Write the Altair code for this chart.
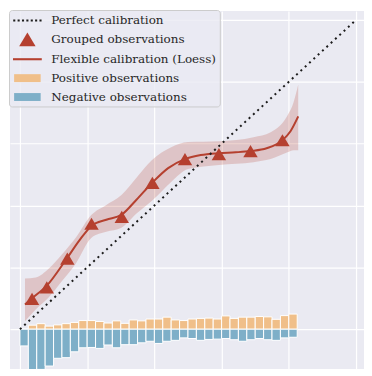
import altair as alt
import pandas as pd

# ---------------- data ----------------
bin_start = [0.000, 0.025, 0.050, 0.075, 0.100, 0.125, 0.150, 0.175, 0.200, 0.225,
             0.250, 0.275, 0.300, 0.325, 0.350, 0.375, 0.400, 0.425, 0.450, 0.475,
             0.500, 0.525, 0.550, 0.575, 0.600, 0.625, 0.650, 0.675, 0.700, 0.725,
             0.750, 0.775, 0.800]
pos_height = [0.000, 0.013, 0.018, 0.010, 0.014, 0.018, 0.022, 0.028, 0.028, 0.025,
              0.020, 0.027, 0.019, 0.030, 0.027, 0.033, 0.033, 0.039, 0.030, 0.028,
              0.033, 0.035, 0.036, 0.033, 0.043, 0.035, 0.039, 0.039, 0.041, 0.040,
              0.032, 0.044, 0.049]
neg_height = [0.054, 0.177, 0.130, 0.119, 0.094, 0.092, 0.073, 0.060, 0.059, 0.062,
              0.051, 0.060, 0.050, 0.050, 0.044, 0.039, 0.046, 0.039, 0.036, 0.028,
              0.030, 0.036, 0.033, 0.032, 0.030, 0.034, 0.039, 0.034, 0.030, 0.034,
              0.036, 0.028, 0.026]
bin_width = 0.025

grp_x = [0.036, 0.080, 0.141, 0.213, 0.303, 0.394, 0.491, 0.592, 0.686, 0.781]
grp_y = [0.098, 0.135, 0.228, 0.341, 0.363, 0.473, 0.550, 0.566, 0.576, 0.611]

loess_x = [0.015, 0.036, 0.080, 0.139, 0.178, 0.213, 0.257, 0.302, 0.346, 0.393,
           0.441, 0.491, 0.538, 0.592, 0.642, 0.686, 0.734, 0.781, 0.805, 0.828]
loess_y = [0.080, 0.100, 0.141, 0.228, 0.289, 0.334, 0.354, 0.370, 0.418, 0.473,
           0.521, 0.550, 0.563, 0.569, 0.572, 0.576, 0.585, 0.611, 0.640, 0.688]

band_x = [0.015, 0.047, 0.086, 0.124, 0.166, 0.213, 0.257, 0.302, 0.346, 0.393,
          0.450, 0.500, 0.592, 0.695, 0.746, 0.796, 0.814, 0.828]
band_hi = [0.164, 0.167, 0.196, 0.241, 0.296, 0.370, 0.402, 0.434, 0.489, 0.547,
           0.588, 0.605, 0.608, 0.621, 0.637, 0.691, 0.733, 0.791]
band_lo = [0.026, 0.064, 0.103, 0.154, 0.212, 0.296, 0.315, 0.328, 0.373, 0.415,
           0.476, 0.518, 0.531, 0.540, 0.550, 0.572, 0.579, 0.579]

perfect_x = [0.0, 1.0]
perfect_y = [0.0, 1.0]

grid_ticks = [0.0, 0.2, 0.4, 0.6, 0.8, 1.0]

series = ["Perfect calibration", "Grouped observations",
          "Flexible calibration (Loess)", "Positive observations",
          "Negative observations"]
colors = ["#1c1c1c", "#b5402f", "#b5402f", "#f0bf89", "#7eafc8"]

# ---------------- styling ----------------
RED = "#b5402f"
X_DOM = [-0.0296, 1.0237]
Y_DOM = [-0.1286, 1.0289]
SERIF = "DejaVu Serif"

# legend symbol shapes (unit = 7.5 px in the legend)
dots = [-1.76, -1.173, -0.587, 0.0, 0.587, 1.173, 1.76]
dot_path = "".join(f"M{d-0.14:.3f},-0.14h0.28v0.28h-0.28Z" for d in dots)
legend_paths = [
    dot_path,
    "M-1.1,0.93L1.1,0.93L0,-0.93Z",
    "M-1.93,-0.14H1.93V0.14H-1.93Z",
    "M-1.78,-0.53H1.78V0.53H-1.78Z",
    "M-1.78,-0.53H1.78V0.53H-1.78Z",
]


def xq(field):
    return alt.X(field, type="quantitative",
                 scale=alt.Scale(domain=X_DOM, nice=False, zero=False),
                 axis=alt.Axis(values=grid_ticks, labels=False, ticks=False,
                               domain=False, title=None, grid=True))


def yq(field):
    return alt.Y(field, type="quantitative",
                 scale=alt.Scale(domain=Y_DOM, nice=False, zero=False),
                 axis=alt.Axis(values=grid_ticks, labels=False, ticks=False,
                               domain=False, title=None, grid=True))


bars_df = pd.DataFrame({"start": bin_start, "pos": pos_height, "neg": neg_height})
bars_base = alt.Chart(bars_df).transform_calculate(
    end=f"datum.start + {bin_width}", negv="-datum.neg", zero="0"
)
pos_layer = bars_base.mark_bar(color="#f0bf89", stroke="white", strokeWidth=1, clip=True).encode(
    x=xq("start"), x2="end:Q", y=yq("pos"), y2="zero:Q")
neg_layer = bars_base.mark_bar(color="#7eafc8", stroke="white", strokeWidth=1, clip=True).encode(
    x=xq("start"), x2="end:Q", y=yq("negv"), y2="zero:Q")

band_df = pd.DataFrame({"x": band_x, "lo": band_lo, "hi": band_hi})
band_layer = alt.Chart(band_df).mark_area(color=RED, opacity=0.22, interpolate="monotone").encode(
    x=xq("x"), y=yq("lo"), y2="hi:Q")

loess_df = pd.DataFrame({"x": loess_x, "y": loess_y})
loess_layer = alt.Chart(loess_df).mark_line(color=RED, strokeWidth=2, interpolate="monotone").encode(
    x=xq("x"), y=yq("y"))

perf_df = pd.DataFrame({"x": perfect_x, "y": perfect_y})
perf_layer = alt.Chart(perf_df).mark_line(color="#1c1c1c", strokeWidth=2, strokeDash=[2, 3.9]).encode(
    x=xq("x"), y=yq("y"))

grp_df = pd.DataFrame({"x": grp_x, "y": grp_y, "series": ["Grouped observations"] * len(grp_x)})


def make_legend():
    return alt.Legend(
        title=None, orient="none", legendX=-1, legendY=-1, padding=3,
        symbolSize=225, symbolOffset=8, labelOffset=16.5, rowPadding=5.0,
        labelFont=SERIF, labelFontSize=12, labelColor="#262626",
        labelLimit=400, fillColor="rgba(234,234,242,0.8)", strokeColor="#cccccc",
        cornerRadius=3, symbolStrokeWidth=0, symbolOpacity=1,
    )


pts_layer = alt.Chart(grp_df).mark_point(filled=True, size=174, opacity=1).encode(
    x=xq("x"), y=yq("y"),
    color=alt.Color("series:N", scale=alt.Scale(domain=series, range=colors), legend=make_legend()),
    shape=alt.Shape("series:N", scale=alt.Scale(domain=series, range=legend_paths), legend=make_legend()),
)

chart = alt.layer(pos_layer, neg_layer, band_layer, loess_layer, perf_layer, pts_layer).properties(
    width=356, height=360, padding=0, background="white"
).configure(font=SERIF).configure_view(fill="#EAEAF2", stroke=None).configure_axis(
    gridColor="white", gridOpacity=1, gridWidth=1.2
).configure_legend(labelFont=SERIF, labelFontSize=12)

chart.save("out.html", embed_options={"renderer": "svg", "actions": False})
